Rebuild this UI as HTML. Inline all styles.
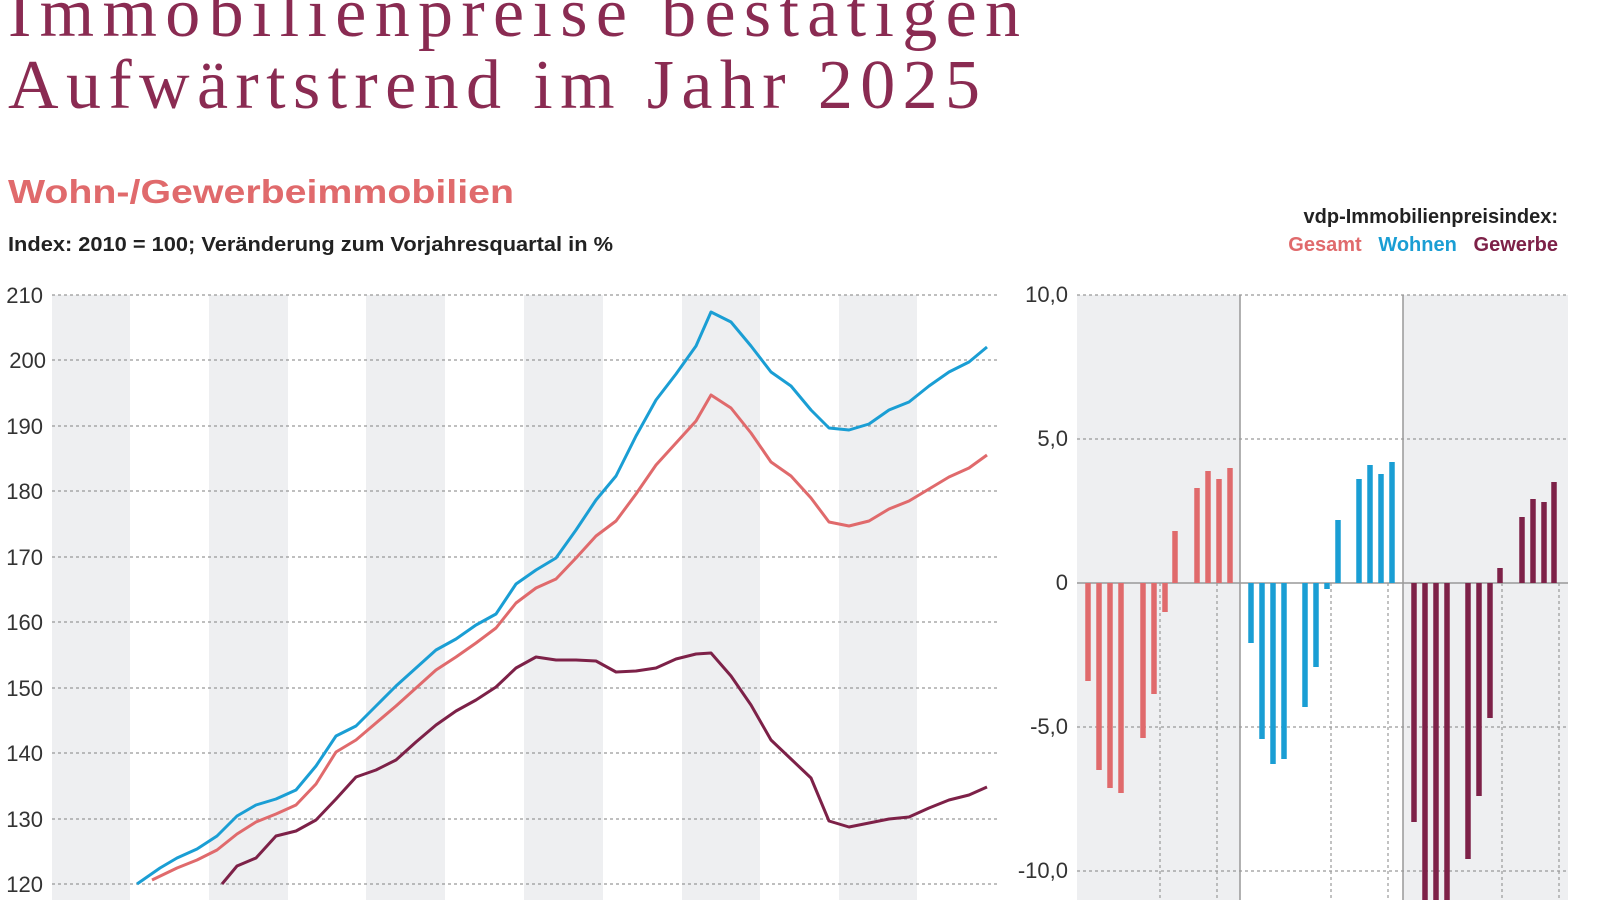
<!DOCTYPE html>
<html><head><meta charset="utf-8"><style>
html,body{margin:0;padding:0;background:#fff;width:1600px;height:900px;overflow:hidden}
svg{display:block}
text{font-family:"Liberation Sans",sans-serif}
</style></head><body>
<svg width="1600" height="900" viewBox="0 0 1600 900" xmlns="http://www.w3.org/2000/svg">
<rect width="1600" height="900" fill="#fff"/>
<text x="8" y="36" font-size="70" fill="#8a2b52" textLength="1012" lengthAdjust="spacing" style="font-family:'Liberation Serif',serif">Immobilienpreise bestätigen</text>
<text x="8" y="108" font-size="70" fill="#8a2b52" textLength="972" lengthAdjust="spacing" style="font-family:'Liberation Serif',serif">Aufwärtstrend im Jahr 2025</text>
<text x="8" y="203" font-size="33" font-weight="bold" fill="#e06a6c" textLength="506" lengthAdjust="spacingAndGlyphs">Wohn-/Gewerbeimmobilien</text>
<text x="8" y="251" font-size="20" font-weight="bold" fill="#222" textLength="605" lengthAdjust="spacingAndGlyphs">Index: 2010 = 100; Veränderung zum Vorjahresquartal in %</text>
<text x="1558" y="223" font-size="20" font-weight="bold" fill="#222" text-anchor="end">vdp-Immobilienpreisindex:</text>
<text x="1558" y="251" font-size="20" font-weight="bold" text-anchor="end"><tspan fill="#e06a6c">Gesamt</tspan><tspan fill="#fff">_</tspan><tspan fill="#1a9ed4"> Wohnen</tspan><tspan fill="#fff">_</tspan><tspan fill="#7d2148"> Gewerbe</tspan></text>

<g fill="#eeeff1">
<rect x="52" y="295" width="78" height="605"/>
<rect x="209" y="295" width="79" height="605"/>
<rect x="366" y="295" width="79" height="605"/>
<rect x="524" y="295" width="79" height="605"/>
<rect x="682" y="295" width="78" height="605"/>
<rect x="839" y="295" width="78" height="605"/>
</g>
<g stroke="#999" stroke-width="1.2" stroke-dasharray="3,3">
<line x1="52" x2="997" y1="295" y2="295"/><line x1="52" x2="997" y1="360" y2="360"/>
<line x1="52" x2="997" y1="426" y2="426"/><line x1="52" x2="997" y1="491" y2="491"/>
<line x1="52" x2="997" y1="557" y2="557"/><line x1="52" x2="997" y1="622" y2="622"/>
<line x1="52" x2="997" y1="688" y2="688"/><line x1="52" x2="997" y1="753" y2="753"/>
<line x1="52" x2="997" y1="819" y2="819"/><line x1="52" x2="997" y1="884" y2="884"/>
</g>
<g font-size="22" fill="#333" text-anchor="end">
<text x="43" y="303">210</text><text x="46" y="368">200</text><text x="43" y="434">190</text>
<text x="43" y="499">180</text><text x="43" y="565">170</text><text x="43" y="630">160</text>
<text x="43" y="696">150</text><text x="43" y="761">140</text><text x="43" y="827">130</text><text x="43" y="892">120</text>
</g>
<g fill="none" stroke-width="3" stroke-linejoin="round">
<polyline stroke="#1a9ed4" points="137,884 160,868 177,858 197,849 217,836 237,816 256,805 276,799 296,790 316,766 336,736 356,726 376,706 396,686 416,668 436,650 456,639 476,625 496,614 516,584 536,570 556,558 576,530 596,500 616,476 636,436 656,400 676,374 696,346 711,312 731,322 751,346 771,372 791,386 811,410 829,428 849,430 869,424 889,410 909,402 929,386 949,372 969,362 987,347"/>
<polyline stroke="#e06a6c" points="152,880 177,868 197,860 217,850 237,834 256,822 276,814 296,805 316,784 336,752 356,740 376,723 396,706 416,688 436,670 456,657 476,643 496,628 516,603 536,588 556,579 576,558 596,536 616,521 636,494 656,465 676,443 696,421 711,395 731,408 751,433 771,462 791,476 811,498 829,522 849,526 869,521 889,509 909,501 929,489 949,477 969,468 987,455"/>
<polyline stroke="#7d2148" points="222,884 237,866 256,858 276,836 296,831 316,820 336,799 356,777 376,770 396,760 416,742 436,725 456,711 476,700 496,687 516,668 536,657 556,660 576,660 596,661 616,672 636,671 656,668 676,659 696,654 711,653 731,676 751,705 771,740 791,759 811,778 829,821 849,827 869,823 889,819 909,817 929,808 949,800 969,795 987,787"/>
</g>

<g fill="#eeeff1">
<rect x="1077" y="295" width="163" height="605"/>
<rect x="1403" y="295" width="165" height="605"/>
</g>
<g stroke="#999" stroke-width="1.2" stroke-dasharray="3,3">
<line x1="1077" x2="1568" y1="295" y2="295"/><line x1="1077" x2="1568" y1="439" y2="439"/>
<line x1="1077" x2="1568" y1="727" y2="727"/><line x1="1077" x2="1568" y1="871" y2="871"/>
<line x1="1160" x2="1160" y1="583" y2="900"/><line x1="1217" x2="1217" y1="583" y2="900"/>
<line x1="1331" x2="1331" y1="583" y2="900"/><line x1="1388" x2="1388" y1="583" y2="900"/>
<line x1="1502" x2="1502" y1="583" y2="900"/><line x1="1559" x2="1559" y1="583" y2="900"/>
</g>
<g stroke="#999" stroke-width="1.5">
<line x1="1240" x2="1240" y1="295" y2="900"/><line x1="1403" x2="1403" y1="295" y2="900"/>
<line x1="1077" x2="1568" y1="583" y2="583"/>
</g>
<g font-size="22" fill="#333" text-anchor="end">
<text x="1068" y="302">10,0</text><text x="1068" y="446">5,0</text><text x="1068" y="590">0</text>
<text x="1068" y="734">-5,0</text><text x="1068" y="878">-10,0</text>
</g>
<g stroke-width="5.5">
<g stroke="#e06a6c">
<line x1="1088" x2="1088" y1="583" y2="681"/><line x1="1099" x2="1099" y1="583" y2="770"/>
<line x1="1110" x2="1110" y1="583" y2="788"/><line x1="1121" x2="1121" y1="583" y2="793"/>
<line x1="1143" x2="1143" y1="583" y2="738"/><line x1="1154" x2="1154" y1="583" y2="694"/>
<line x1="1165" x2="1165" y1="583" y2="612"/><line x1="1175" x2="1175" y1="583" y2="531"/>
<line x1="1197" x2="1197" y1="583" y2="488"/><line x1="1208" x2="1208" y1="583" y2="471"/>
<line x1="1219" x2="1219" y1="583" y2="479"/><line x1="1230" x2="1230" y1="583" y2="468"/>
</g>
<g stroke="#1a9ed4">
<line x1="1251" x2="1251" y1="583" y2="643"/><line x1="1262" x2="1262" y1="583" y2="739"/>
<line x1="1273" x2="1273" y1="583" y2="764"/><line x1="1284" x2="1284" y1="583" y2="759"/>
<line x1="1305" x2="1305" y1="583" y2="707"/><line x1="1316" x2="1316" y1="583" y2="667"/>
<line x1="1327" x2="1327" y1="583" y2="589"/><line x1="1338" x2="1338" y1="583" y2="520"/>
<line x1="1359" x2="1359" y1="583" y2="479"/><line x1="1370" x2="1370" y1="583" y2="465"/>
<line x1="1381" x2="1381" y1="583" y2="474"/><line x1="1392" x2="1392" y1="583" y2="462"/>
</g>
<g stroke="#7d2148">
<line x1="1414" x2="1414" y1="583" y2="822"/><line x1="1425" x2="1425" y1="583" y2="900"/>
<line x1="1436" x2="1436" y1="583" y2="900"/><line x1="1447" x2="1447" y1="583" y2="900"/>
<line x1="1468" x2="1468" y1="583" y2="859"/><line x1="1479" x2="1479" y1="583" y2="796"/>
<line x1="1490" x2="1490" y1="583" y2="718"/><line x1="1500" x2="1500" y1="583" y2="568"/>
<line x1="1522" x2="1522" y1="583" y2="517"/><line x1="1533" x2="1533" y1="583" y2="499"/>
<line x1="1544" x2="1544" y1="583" y2="502"/><line x1="1554" x2="1554" y1="583" y2="482"/>
</g>
</g>
</svg>
</body></html>
